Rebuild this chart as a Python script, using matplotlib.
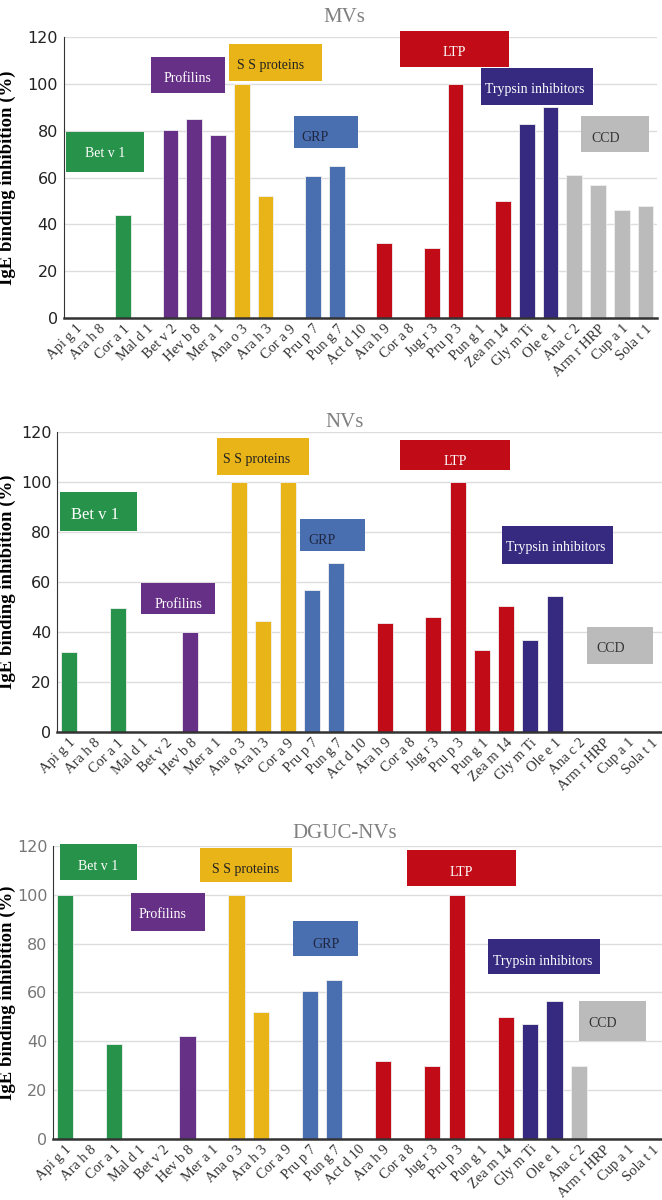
import matplotlib.pyplot as plt
from matplotlib.patches import Rectangle

allergens = ['Api g 1', 'Ara h 8', 'Cor a 1', 'Mal d 1', 'Bet v 2', 'Hev b 8', 'Mer a 1',
             'Ana o 3', 'Ara h 3', 'Cor a 9', 'Pru p 7', 'Pun g 7', 'Act d 10', 'Ara h 9',
             'Cor a 8', 'Jug r 3', 'Pru p 3', 'Pun g 1', 'Zea m 14', 'Gly m Ti', 'Ole e 1',
             'Ana c 2', 'Arm r HRP', 'Cup a 1', 'Sola t 1']
families = ['Bet v 1'] * 4 + ['Profilins'] * 3 + ['S S proteins'] * 3 + ['GRP'] * 2 + \
           ['LTP'] * 7 + ['Trypsin inhibitors'] * 2 + ['CCD'] * 4

mvs = [0, 0, 44, 0, 80.5, 85, 78, 100, 52, 0, 60.5, 65, 0, 32, 0, 30, 100, 0, 50, 83, 90,
       61, 57, 46, 48]
nvs = [32, 0, 49.5, 0, 0, 40, 0, 100, 44.5, 100, 57, 67.5, 0, 43.5, 0, 46, 100, 33, 50.5,
       37, 54.5, 0, 0, 0, 0]
dguc = [100, 0, 39, 0, 0, 42, 0, 100, 52, 0, 60.5, 65, 0, 32, 0, 30, 100, 0, 50, 47, 56.5,
        30, 0, 0, 0]

family_names = ['Bet v 1', 'Profilins', 'S S proteins', 'GRP', 'LTP', 'Trypsin inhibitors', 'CCD']
family_colors = {'Bet v 1': '#27924A', 'Profilins': '#673087', 'S S proteins': '#E8B418',
                 'GRP': '#4A6FB0', 'LTP': '#C10C18', 'Trypsin inhibitors': '#352A80',
                 'CCD': '#BBBBBB'}
family_text = {'Bet v 1': 'white', 'Profilins': 'white', 'S S proteins': '#222222',
               'GRP': '#1e2540', 'LTP': 'white', 'Trypsin inhibitors': 'white',
               'CCD': '#333333'}

# label boxes per panel: (x0, x1, y0, y1, text x, text y)
boxes_mvs = [(-0.38, 2.89, 62.2, 79.4, 1.25, 70.3), (3.2, 6.29, 96.2, 111.5, 4.73, 102.3),
             (6.48, 10.38, 101.4, 117.2, 8.2, 107.9), (9.2, 11.91, 72.5, 86.3, 10.1, 77.3),
             (13.66, 18.27, 107.3, 122.7, 15.96, 113.6), (17.09, 21.77, 91.2, 106.9, 19.32, 97.8),
             (21.29, 24.13, 70.9, 86.3, 22.32, 76.9)]
boxes_nvs = [(-0.38, 2.78, 80.6, 96.1, 1.05, 86.8), (2.97, 5.99, 47.1, 59.5, 4.49, 50.8),
             (6.1, 9.89, 103.0, 117.6, 7.72, 108.8), (9.52, 12.19, 72.5, 85.2, 10.43, 76.6),
             (13.64, 18.15, 104.8, 116.9, 15.9, 108.3), (17.83, 22.41, 67.4, 82.3, 20.03, 73.6),
             (21.31, 24.05, 27.4, 42.2, 22.3, 33.4)]
boxes_dguc = [(-0.23, 2.93, 105.9, 120.7, 1.33, 111.7), (2.7, 5.72, 85.0, 100.9, 3.97, 91.8),
              (5.49, 9.25, 105.3, 119.2, 7.37, 110.2), (9.32, 11.96, 74.8, 89.1, 10.64, 79.5),
              (13.95, 18.42, 103.6, 118.5, 16.19, 109.3), (17.3, 21.85, 67.7, 81.7, 19.5, 72.7),
              (21.0, 23.73, 40.0, 56.3, 21.98, 47.2)]

panels = [
    ('MVs', mvs, boxes_mvs, [0.096, 0.735, 0.897, 0.234], '#222222', 0.993),
    ('NVs', nvs, boxes_nvs, [0.086, 0.390, 0.917, 0.250], '#222222', 0.656),
    ('DGUC-NVs', dguc, boxes_dguc, [0.080, 0.051, 0.924, 0.244], '#777777', 0.313),
]

fig = plt.figure(figsize=(6.62, 12), dpi=100)
serif = 'Liberation Serif'

for title, vals, boxes, rect, tickcol, ty in panels:
    ax = fig.add_axes(rect)
    x = list(range(len(allergens)))
    colors = [family_colors[f] for f in families]
    ax.bar(x, vals, width=0.66, color=colors, edgecolor='#f0f0f0', linewidth=0.6, zorder=2)
    ax.set_xlim(-0.5, 24.5)
    ax.set_ylim(0, 120)
    ax.set_yticks(range(0, 121, 20))
    ax.yaxis.grid(True, color='#DDDDDD', linewidth=1)
    ax.set_axisbelow(True)
    for s in ['top', 'right']:
        ax.spines[s].set_visible(False)
    ax.spines['left'].set_color('#333333')
    ax.spines['bottom'].set_color('#333333')
    ax.spines['bottom'].set_linewidth(1.8)
    ax.tick_params(axis='y', length=0, labelsize=11.5, labelcolor=tickcol, pad=4)
    ax.tick_params(axis='x', length=0, pad=3)
    ax.set_xticks(x)
    ax.set_xticklabels(allergens, rotation=45, ha='right', rotation_mode='anchor',
                       fontsize=10.5, family=serif, color='#333333')
    ax.set_ylabel('IgE binding inhibition (%)', family=serif, fontweight='bold',
                  fontsize=13.5)
    left_px = rect[0] * 662
    width_px = rect[2] * 662
    ax.yaxis.set_label_coords((16 - left_px) / width_px, 0.5)
    fig.text(0.52, ty, title, ha='center', va='top', family=serif, fontsize=15,
             color='#808080')
    for name, (x0, x1, y0, y1, tx, tyy) in zip(family_names, boxes):
        ax.add_patch(Rectangle((x0, y0), x1 - x0, y1 - y0, facecolor=family_colors[name],
                               edgecolor='none', clip_on=False, zorder=4))
        fs = 12 if (title == 'NVs' and name == 'Bet v 1') else 10
        ax.text(tx, tyy, name, ha='center', va='center', family=serif, fontsize=fs,
                color=family_text[name], zorder=5, clip_on=False)

fig.savefig('out.png', dpi=100)
